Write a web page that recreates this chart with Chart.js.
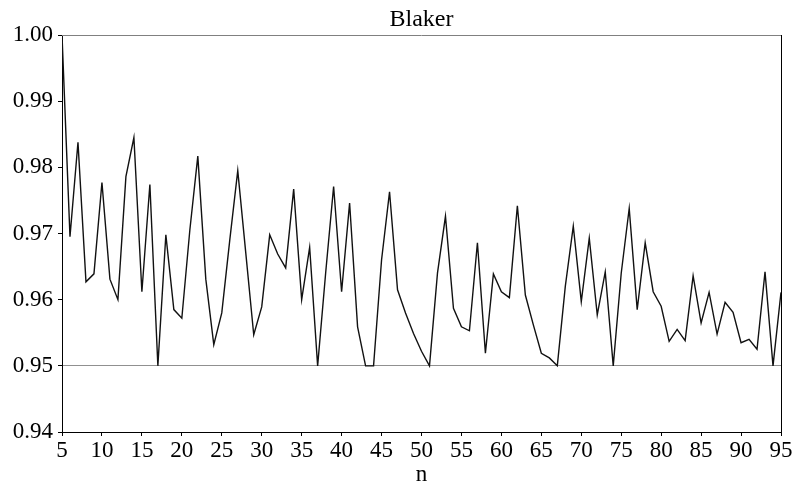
<!DOCTYPE html>
<html>
<head>
<meta charset="utf-8">
<script src="https://cdn.jsdelivr.net/npm/chart.js@4.4.1/dist/chart.umd.min.js"></script>
<style>
    body { margin: 0; background: #fff; }
    #wrap { width: 795px; height: 492px; }
</style>
</head>
<body>
<div id="wrap"><canvas id="blakerChart" width="795" height="492"></canvas></div>
<script>
// n values (sample size)
const nValues = [
    5, 6, 7, 8, 9, 10, 11, 12, 13, 14, 15, 16, 17, 18, 19, 20,
    21, 22, 23, 24, 25, 26, 27, 28, 29, 30, 31, 32, 33, 34, 35,
    36, 37, 38, 39, 40, 41, 42, 43, 44, 45, 46, 47, 48, 49, 50,
    51, 52, 53, 54, 55, 56, 57, 58, 59, 60, 61, 62, 63, 64, 65,
    66, 67, 68, 69, 70, 71, 72, 73, 74, 75, 76, 77, 78, 79, 80,
    81, 82, 83, 84, 85, 86, 87, 88, 89, 90, 91, 92, 93, 94, 95
];

// coverage probability
const coverage = [
    1.0000, 0.9695, 0.9838, 0.9627, 0.9639, 0.9777, 0.9631, 0.9600, 0.9786, 0.9845, 0.9612, 0.9774, 0.9500, 0.9698, 0.9585, 0.9572,
    0.9705, 0.9817, 0.9631, 0.9532, 0.9580, 0.9690, 0.9795, 0.9671, 0.9547, 0.9589, 0.9698, 0.9669, 0.9648, 0.9767, 0.9600,
    0.9679, 0.9500, 0.9640, 0.9771, 0.9612, 0.9746, 0.9559, 0.9500, 0.9500, 0.9660, 0.9763, 0.9615, 0.9580, 0.9549, 0.9522,
    0.9500, 0.9640, 0.9726, 0.9587, 0.9559, 0.9553, 0.9686, 0.9519, 0.9639, 0.9612, 0.9603, 0.9742, 0.9607, 0.9562, 0.9519,
    0.9512, 0.9500, 0.9620, 0.9711, 0.9597, 0.9693, 0.9577, 0.9642, 0.9500, 0.9640, 0.9738, 0.9585, 0.9686, 0.9612, 0.9590,
    0.9537, 0.9555, 0.9538, 0.9636, 0.9565, 0.9611, 0.9548, 0.9596, 0.9581, 0.9535, 0.9540, 0.9525, 0.9642, 0.9500, 0.9611
];

const nominalLevel = 0.95;
const xTicks = [5, 10, 15, 20, 25, 30, 35, 40, 45, 50, 55, 60, 65, 70, 75, 80, 85, 90, 95];
const yTicks = [0.94, 0.95, 0.96, 0.97, 0.98, 0.99, 1.00];

const serif = "'Liberation Serif', 'Times New Roman', serif";

// top (gray) and right (black) frame lines
const framePlugin = {
    id: 'frame',
    afterDraw(chart) {
        const { ctx, chartArea: a } = chart;
        ctx.save();
        ctx.lineWidth = 1;
        ctx.strokeStyle = '#808080';
        ctx.beginPath();
        ctx.moveTo(a.left, a.top + 0.5);
        ctx.lineTo(a.right, a.top + 0.5);
        ctx.stroke();
        ctx.strokeStyle = '#000';
        ctx.beginPath();
        ctx.moveTo(a.right + 0.5, a.top);
        ctx.lineTo(a.right + 0.5, a.bottom + 4);
        ctx.stroke();
        ctx.restore();
    }
};

const ctx = document.getElementById('blakerChart').getContext('2d');
new Chart(ctx, {
    type: 'line',
    data: {
        datasets: [{
            label: 'Blaker',
            data: nValues.map((n, i) => ({ x: n, y: coverage[i] })),
            borderColor: '#111',
            borderWidth: 1.4,
            pointRadius: 0,
            tension: 0,
            fill: false
        }]
    },
    options: {
        responsive: false,
        animation: false,
        layout: { padding: { left: 0, right: 14, top: 0, bottom: 0 } },
        plugins: {
            legend: { display: false },
            tooltip: { enabled: false },
            title: {
                display: true,
                fullSize: false,
                text: 'Blaker',
                color: '#000',
                font: { family: serif, size: 24, weight: 'normal' },
                padding: { top: 5, bottom: 1.2 }
            }
        },
        scales: {
            x: {
                type: 'linear',
                min: 5,
                max: 95,
                afterFit(scale) { scale.height = 60; },
                afterBuildTicks(scale) { scale.ticks = xTicks.map(v => ({ value: v })); },
                ticks: {
                    color: '#000',
                    font: { family: serif, size: 23 },
                    padding: 1,
                    maxRotation: 0,
                    autoSkip: false
                },
                grid: {
                    color: 'rgba(0,0,0,0)',
                    tickColor: '#000',
                    tickLength: 4
                },
                border: { color: '#000', width: 1 },
                title: {
                    display: true,
                    text: 'n',
                    color: '#000',
                    font: { family: serif, size: 23 },
                    padding: { top: 0, bottom: 3 }
                }
            },
            y: {
                min: 0.94,
                max: 1.00,
                afterFit(scale) { scale.width = 62; },
                afterBuildTicks(scale) { scale.ticks = yTicks.map(v => ({ value: v })); },
                ticks: {
                    color: '#000',
                    font: { family: serif, size: 23 },
                    padding: 5,
                    callback: v => v.toFixed(2)
                },
                grid: {
                    color: c => Math.abs(c.tick.value - nominalLevel) < 1e-6 ? '#909090' : 'rgba(0,0,0,0)',
                    tickColor: '#000',
                    tickLength: 4
                },
                border: { color: '#000', width: 1 }
            }
        }
    },
    plugins: [framePlugin]
});
</script>
</body>
</html>
